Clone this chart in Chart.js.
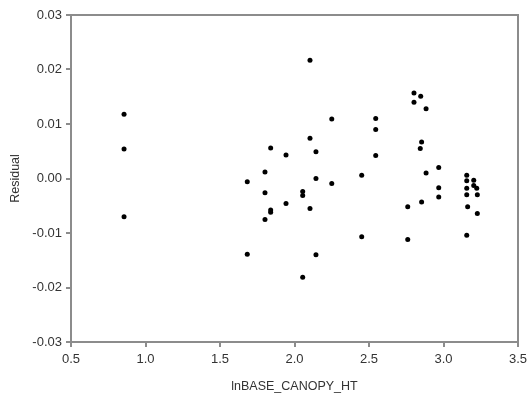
<!DOCTYPE html>
<html>
<head>
<meta charset="utf-8">
<script src="https://cdn.jsdelivr.net/npm/chart.js@4"></script>
<style>
  html, body { margin: 0; padding: 0; background: #fff; }
  #wrap { width: 528px; height: 399px; }
</style>
</head>
<body>
<div id="wrap"><canvas id="residualChart" width="528" height="399"></canvas></div>
<script>
// lnBASE_CANOPY_HT vs residual
const xVals = [0.856, 0.856, 0.856, 1.683, 1.683, 1.802, 1.802, 1.802, 1.840, 1.840,
  1.840, 1.943, 1.943, 2.055, 2.055, 2.055, 2.104, 2.104, 2.104, 2.144,
  2.144, 2.144, 2.250, 2.250, 2.451, 2.451, 2.545, 2.545, 2.545, 2.760,
  2.760, 2.802, 2.802, 2.847, 2.853, 2.844, 2.853, 2.883, 2.883, 2.968,
  2.968, 2.968, 3.156, 3.156, 3.203, 3.203, 3.223, 3.156, 3.156, 3.227,
  3.162, 3.227, 3.156];
const yVals = [0.0118, 0.0054, -0.0070, -0.0006, -0.0139, 0.0012, -0.0026, -0.0075, 0.0056, -0.0058,
  -0.0062, 0.0043, -0.0046, -0.0024, -0.0031, -0.0181, 0.0217, 0.0074, -0.0055, 0.0049,
  0.0000, -0.0140, 0.0109, -0.0009, 0.0006, -0.0107, 0.0110, 0.0090, 0.0042, -0.0052,
  -0.0112, 0.0157, 0.0140, 0.0151, 0.0067, 0.0055, -0.0043, 0.0128, 0.0010, 0.0020,
  -0.0017, -0.0034, 0.0006, -0.0004, -0.0003, -0.0013, -0.0018, -0.0018, -0.0030, -0.0030,
  -0.0052, -0.0064, -0.0104];
const xTitle = "lnBASE_CANOPY_HT";
const yTitle = "Residual";

const axisGray = '#8c8c8c';
const textGray = '#333333';

// top and right frame lines
const frame = {
  id: 'frame',
  afterDraw(chart) {
    const {ctx, chartArea: a} = chart;
    ctx.save();
    ctx.strokeStyle = axisGray;
    ctx.lineWidth = 2;
    ctx.beginPath();
    ctx.moveTo(a.left, a.top);
    ctx.lineTo(a.right, a.top);
    ctx.lineTo(a.right, a.bottom);
    ctx.stroke();
    ctx.restore();
  }
};

const points = xVals.map((x, i) => ({x: x, y: yVals[i]}));

new Chart(document.getElementById('residualChart'), {
  type: 'scatter',
  data: {
    datasets: [{
      data: points,
      backgroundColor: '#000',
      borderColor: '#000',
      pointRadius: 2.5,
      pointHoverRadius: 2.5,
      borderWidth: 0
    }]
  },
  options: {
    responsive: false,
    animation: false,
    events: [],
    layout: { padding: { left: 0, right: 10, top: 15, bottom: 0 } },
    plugins: { legend: { display: false }, tooltip: { enabled: false } },
    scales: {
      x: {
        type: 'linear',
        min: 0.5, max: 3.5,
        afterFit(s) { s.height = 57; s.paddingRight = 0; s.paddingLeft = 0; },
        border: { display: true, color: axisGray, width: 2 },
        grid: { drawOnChartArea: false, drawTicks: true, tickLength: 5, color: axisGray, lineWidth: 2 },
        ticks: {
          stepSize: 0.5, padding: 5, color: textGray,
          font: { family: 'Liberation Sans, Arial', size: 13 },
          callback: v => v.toFixed(1)
        },
        title: {
          display: true, text: xTitle, color: textGray,
          font: { family: 'Liberation Sans, Arial', size: 12.5 },
          padding: { top: 0, bottom: 5 }
        }
      },
      y: {
        type: 'linear',
        min: -0.03, max: 0.03,
        afterFit(s) { s.width = 71; s.paddingTop = 0; s.paddingBottom = 0; },
        border: { display: true, color: axisGray, width: 2 },
        grid: { drawOnChartArea: false, drawTicks: true, tickLength: 5, color: axisGray, lineWidth: 2 },
        ticks: {
          stepSize: 0.01, padding: 4, color: textGray,
          font: { family: 'Liberation Sans, Arial', size: 13 },
          callback: v => v.toFixed(2)
        },
        title: {
          display: true, text: yTitle, color: textGray,
          font: { family: 'Liberation Sans, Arial', size: 12.5 },
          padding: { top: 8, bottom: 0 }
        }
      }
    }
  },
  plugins: [frame]
});
</script>
</body>
</html>
